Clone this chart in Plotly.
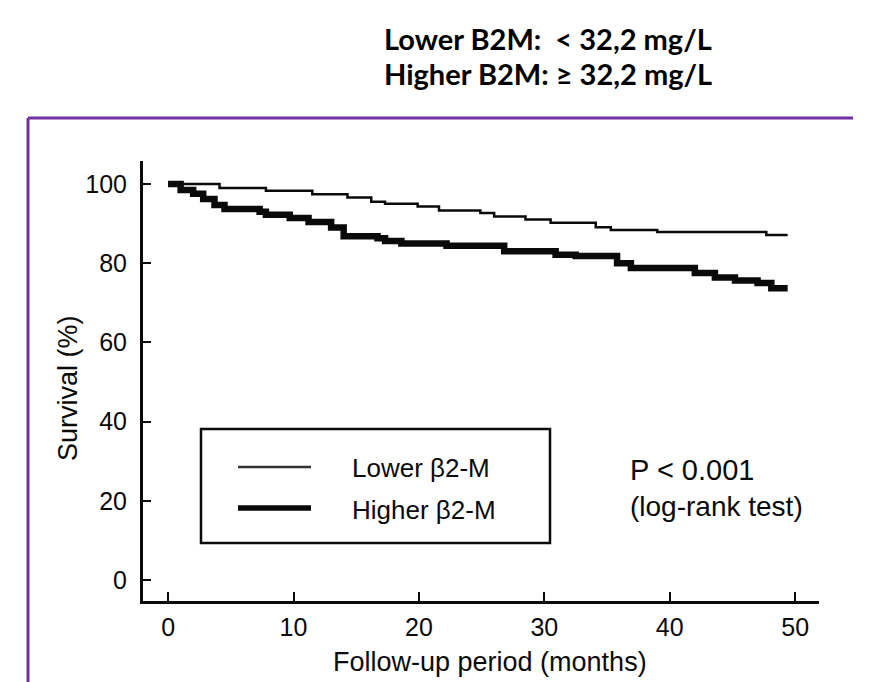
import plotly.graph_objects as go

# ---- data ----
lower_months = [0, 4.1, 7.8, 11.5, 14.3, 16.2, 17.3, 19.9, 21.6, 24.9, 26.0, 28.5, 30.5, 34.1, 35.3, 39.0, 47.7, 49.4]
lower_surv = [100, 99.0, 98.3, 97.4, 96.6, 95.5, 95.0, 94.3, 93.3, 92.7, 91.8, 91.0, 90.2, 89.1, 88.4, 87.9, 87.1, 87.1]

higher_months = [0, 1.0, 2.0, 2.8, 3.7, 4.5, 7.3, 7.8, 9.7, 11.2, 13.0, 14.0, 16.7, 17.3, 18.6, 22.2, 26.8, 30.9,
                 32.5, 35.8, 36.9, 42.0, 43.6, 45.2, 47.0, 48.1, 49.4]
higher_surv = [100, 98.5, 97.5, 96.2, 94.7, 93.7, 93.0, 92.2, 91.4, 90.4, 89.0, 86.8, 86.3, 85.6, 85.0, 84.4, 83.0, 82.1,
               81.8, 80.0, 78.8, 77.5, 76.4, 75.6, 75.0, 73.7, 73.7]

x_ticks = [0, 10, 20, 30, 40, 50]
y_ticks = [0, 20, 40, 60, 80, 100]
series_names = ["Lower β2-M", "Higher β2-M"]
title_lines = ["Lower B2M:  < 32,2 mg/L", "Higher B2M: ≥ 32,2 mg/L"]
p_text = ["P < 0.001", "(log-rank test)"]

# ---- layout geometry (pixels) ----
W, H = 873, 682
L, R, T, B = 135, 62, 153, 89
PW, PH = W - L - R, H - T - B


def px(x):
    return (x - L) / PW


def py(y):
    return (H - B - y) / PH


INK = "#0a0a0a"
FONT = "Liberation Sans, Arial, sans-serif"

fig = go.Figure()
fig.add_trace(go.Scatter(x=lower_months, y=lower_surv, mode="lines", line_shape="hv",
                         line=dict(color=INK, width=2.5), name=series_names[0], showlegend=False))
fig.add_trace(go.Scatter(x=higher_months, y=higher_surv, mode="lines", line_shape="hv",
                         line=dict(color=INK, width=6.5), name=series_names[1], showlegend=False))

shapes = []
# purple frame (top and left)
shapes.append(dict(type="line", xref="paper", yref="paper", x0=px(20), x1=px(845), y0=py(110), y1=py(110),
                   line=dict(color="#7030A0", width=3)))
shapes.append(dict(type="line", xref="paper", yref="paper", x0=px(20), x1=px(20), y0=py(110), y1=py(H + 5),
                   line=dict(color="#7030A0", width=3)))
# legend box
shapes.append(dict(type="rect", xref="paper", yref="paper", x0=px(193), x1=px(542), y0=py(535), y1=py(421),
                   line=dict(color=INK, width=2.5), fillcolor="rgba(0,0,0,0)"))
shapes.append(dict(type="line", xref="paper", yref="paper", x0=px(230), x1=px(303), y0=py(459), y1=py(459),
                   line=dict(color="#333333", width=2.5)))
shapes.append(dict(type="line", xref="paper", yref="paper", x0=px(230), x1=px(303), y0=py(500), y1=py(500),
                   line=dict(color=INK, width=5.5)))

annotations = []
annotations.append(dict(text=f"<b>{title_lines[0]}</b>", x=px(374), y=py(30), xref="paper", yref="paper",
                        xanchor="left", yanchor="middle", showarrow=False,
                        font=dict(family="Lato, sans-serif", size=29, color="#000")))
annotations.append(dict(text=f"<b>{title_lines[1]}</b>", x=px(374), y=py(66), xref="paper", yref="paper",
                        xanchor="left", yanchor="middle", showarrow=False,
                        font=dict(family="Lato, sans-serif", size=29, color="#000")))
annotations.append(dict(text=series_names[0], x=px(342), y=py(460), xref="paper", yref="paper",
                        xanchor="left", yanchor="middle", showarrow=False, font=dict(family=FONT, size=26, color=INK)))
annotations.append(dict(text=series_names[1], x=px(342), y=py(502), xref="paper", yref="paper",
                        xanchor="left", yanchor="middle", showarrow=False, font=dict(family=FONT, size=26, color=INK)))
annotations.append(dict(text=p_text[0], x=px(620), y=py(462), xref="paper", yref="paper",
                        xanchor="left", yanchor="middle", showarrow=False, font=dict(family=FONT, size=29, color=INK)))
annotations.append(dict(text=p_text[1], x=px(620), y=py(498), xref="paper", yref="paper",
                        xanchor="left", yanchor="middle", showarrow=False, font=dict(family=FONT, size=28, color=INK)))
annotations.append(dict(text="Survival (%)", x=px(60), y=py(380), xref="paper", yref="paper", textangle=-90,
                        xanchor="center", yanchor="middle", showarrow=False, font=dict(family=FONT, size=27, color=INK)))
annotations.append(dict(text="Follow-up period (months)", x=px(482), y=py(654), xref="paper", yref="paper",
                        xanchor="center", yanchor="middle", showarrow=False, font=dict(family=FONT, size=27, color=INK)))

fig.update_layout(
    width=W, height=H,
    margin=dict(l=L, r=R, t=T, b=B, pad=0),
    paper_bgcolor="white", plot_bgcolor="white",
    shapes=shapes, annotations=annotations,
    showlegend=False,
)
fig.update_xaxes(range=[-2.0, 51.9], tickvals=x_ticks, ticktext=[str(v) for v in x_ticks],
                 showgrid=False, zeroline=False, showline=True, linecolor=INK, linewidth=3,
                 ticks="inside", ticklen=9, tickwidth=2, tickcolor=INK,
                 tickfont=dict(family=FONT, size=25, color=INK), ticklabelstandoff=2)
fig.update_yaxes(range=[-5.3, 105.8], tickvals=y_ticks, ticktext=[str(v) for v in y_ticks],
                 showgrid=False, zeroline=False, showline=True, linecolor=INK, linewidth=3,
                 ticks="inside", ticklen=8, tickwidth=2, tickcolor=INK,
                 tickfont=dict(family=FONT, size=25, color=INK), ticklabelstandoff=8)

fig.write_html("out.html")
